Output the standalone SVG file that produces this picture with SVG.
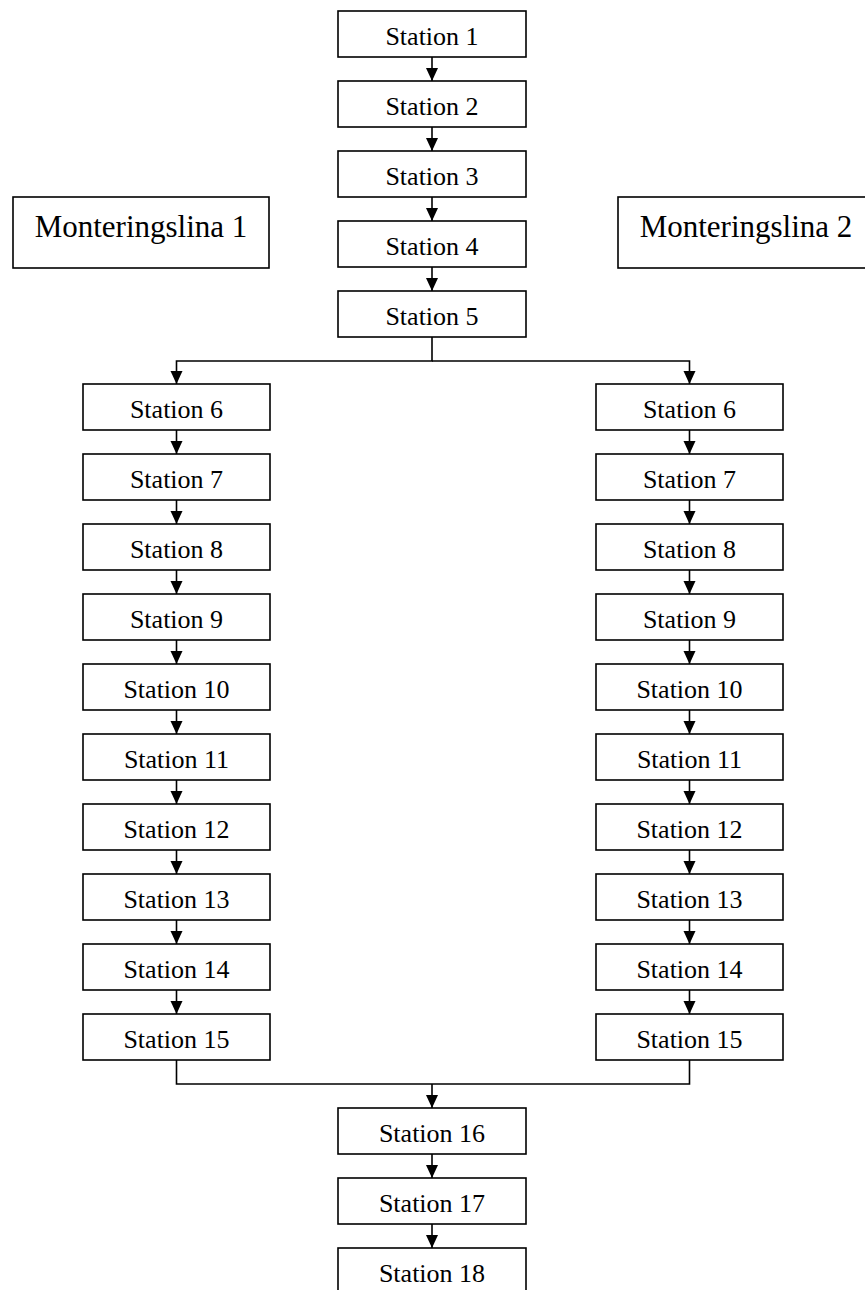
<svg xmlns="http://www.w3.org/2000/svg" width="865" height="1290" viewBox="0 0 865 1290">
<style>
.box{fill:#fff;stroke:#000;stroke-width:1.6}
.t{font-family:"Liberation Serif","Times New Roman",serif;font-size:26px;fill:#000;text-anchor:middle}
.big{font-family:"Liberation Serif","Times New Roman",serif;font-size:31px;fill:#000;text-anchor:middle}
.c{fill:none;stroke:#000;stroke-width:1.6}
</style>
<defs>
<marker id="ah" markerUnits="userSpaceOnUse" markerWidth="13" markerHeight="13" viewBox="0 0 13 13" refX="13" refY="6.5" orient="auto">
<path d="M0,0.5 L13,6.5 L0,12.5 Z" fill="#000"/>
</marker>
</defs>
<rect width="865" height="1290" fill="#fff"/>
<g id="connectors">
<line class="c" x1="432" y1="57" x2="432" y2="81" marker-end="url(#ah)"/>
<line class="c" x1="432" y1="127" x2="432" y2="151" marker-end="url(#ah)"/>
<line class="c" x1="432" y1="197" x2="432" y2="221" marker-end="url(#ah)"/>
<line class="c" x1="432" y1="267" x2="432" y2="291" marker-end="url(#ah)"/>
<polyline class="c" points="432,337 432,361 176.5,361 176.5,384" marker-end="url(#ah)"/>
<polyline class="c" points="432,361 689.5,361 689.5,384" marker-end="url(#ah)"/>
<line class="c" x1="176.5" y1="430" x2="176.5" y2="454" marker-end="url(#ah)"/>
<line class="c" x1="176.5" y1="500" x2="176.5" y2="524" marker-end="url(#ah)"/>
<line class="c" x1="176.5" y1="570" x2="176.5" y2="594" marker-end="url(#ah)"/>
<line class="c" x1="176.5" y1="640" x2="176.5" y2="664" marker-end="url(#ah)"/>
<line class="c" x1="176.5" y1="710" x2="176.5" y2="734" marker-end="url(#ah)"/>
<line class="c" x1="176.5" y1="780" x2="176.5" y2="804" marker-end="url(#ah)"/>
<line class="c" x1="176.5" y1="850" x2="176.5" y2="874" marker-end="url(#ah)"/>
<line class="c" x1="176.5" y1="920" x2="176.5" y2="944" marker-end="url(#ah)"/>
<line class="c" x1="176.5" y1="990" x2="176.5" y2="1014" marker-end="url(#ah)"/>
<line class="c" x1="689.5" y1="430" x2="689.5" y2="454" marker-end="url(#ah)"/>
<line class="c" x1="689.5" y1="500" x2="689.5" y2="524" marker-end="url(#ah)"/>
<line class="c" x1="689.5" y1="570" x2="689.5" y2="594" marker-end="url(#ah)"/>
<line class="c" x1="689.5" y1="640" x2="689.5" y2="664" marker-end="url(#ah)"/>
<line class="c" x1="689.5" y1="710" x2="689.5" y2="734" marker-end="url(#ah)"/>
<line class="c" x1="689.5" y1="780" x2="689.5" y2="804" marker-end="url(#ah)"/>
<line class="c" x1="689.5" y1="850" x2="689.5" y2="874" marker-end="url(#ah)"/>
<line class="c" x1="689.5" y1="920" x2="689.5" y2="944" marker-end="url(#ah)"/>
<line class="c" x1="689.5" y1="990" x2="689.5" y2="1014" marker-end="url(#ah)"/>
<polyline class="c" points="176.5,1060 176.5,1084 689.5,1084 689.5,1060"/>
<line class="c" x1="432" y1="1084" x2="432" y2="1108" marker-end="url(#ah)"/>
<line class="c" x1="432" y1="1154" x2="432" y2="1178" marker-end="url(#ah)"/>
<line class="c" x1="432" y1="1224" x2="432" y2="1248" marker-end="url(#ah)"/>
</g>
<g id="ml1"><rect class="box" x="13" y="197" width="256" height="71"/><text class="big" x="141" y="237">Monteringslina 1</text></g>
<g id="ml2"><rect class="box" x="618" y="197" width="256" height="71"/><text class="big" x="746" y="237">Monteringslina 2</text></g>
<g id="s1"><rect class="box" x="338" y="11" width="188" height="46"/><text class="t" x="432" y="45">Station 1</text></g>
<g id="s2"><rect class="box" x="338" y="81" width="188" height="46"/><text class="t" x="432" y="115">Station 2</text></g>
<g id="s3"><rect class="box" x="338" y="151" width="188" height="46"/><text class="t" x="432" y="185">Station 3</text></g>
<g id="s4"><rect class="box" x="338" y="221" width="188" height="46"/><text class="t" x="432" y="255">Station 4</text></g>
<g id="s5"><rect class="box" x="338" y="291" width="188" height="46"/><text class="t" x="432" y="325">Station 5</text></g>
<g id="l6"><rect class="box" x="83" y="384" width="187" height="46"/><text class="t" x="176.5" y="418">Station 6</text></g>
<g id="l7"><rect class="box" x="83" y="454" width="187" height="46"/><text class="t" x="176.5" y="488">Station 7</text></g>
<g id="l8"><rect class="box" x="83" y="524" width="187" height="46"/><text class="t" x="176.5" y="558">Station 8</text></g>
<g id="l9"><rect class="box" x="83" y="594" width="187" height="46"/><text class="t" x="176.5" y="628">Station 9</text></g>
<g id="l10"><rect class="box" x="83" y="664" width="187" height="46"/><text class="t" x="176.5" y="698">Station 10</text></g>
<g id="l11"><rect class="box" x="83" y="734" width="187" height="46"/><text class="t" x="176.5" y="768">Station 11</text></g>
<g id="l12"><rect class="box" x="83" y="804" width="187" height="46"/><text class="t" x="176.5" y="838">Station 12</text></g>
<g id="l13"><rect class="box" x="83" y="874" width="187" height="46"/><text class="t" x="176.5" y="908">Station 13</text></g>
<g id="l14"><rect class="box" x="83" y="944" width="187" height="46"/><text class="t" x="176.5" y="978">Station 14</text></g>
<g id="l15"><rect class="box" x="83" y="1014" width="187" height="46"/><text class="t" x="176.5" y="1048">Station 15</text></g>
<g id="r6"><rect class="box" x="596" y="384" width="187" height="46"/><text class="t" x="689.5" y="418">Station 6</text></g>
<g id="r7"><rect class="box" x="596" y="454" width="187" height="46"/><text class="t" x="689.5" y="488">Station 7</text></g>
<g id="r8"><rect class="box" x="596" y="524" width="187" height="46"/><text class="t" x="689.5" y="558">Station 8</text></g>
<g id="r9"><rect class="box" x="596" y="594" width="187" height="46"/><text class="t" x="689.5" y="628">Station 9</text></g>
<g id="r10"><rect class="box" x="596" y="664" width="187" height="46"/><text class="t" x="689.5" y="698">Station 10</text></g>
<g id="r11"><rect class="box" x="596" y="734" width="187" height="46"/><text class="t" x="689.5" y="768">Station 11</text></g>
<g id="r12"><rect class="box" x="596" y="804" width="187" height="46"/><text class="t" x="689.5" y="838">Station 12</text></g>
<g id="r13"><rect class="box" x="596" y="874" width="187" height="46"/><text class="t" x="689.5" y="908">Station 13</text></g>
<g id="r14"><rect class="box" x="596" y="944" width="187" height="46"/><text class="t" x="689.5" y="978">Station 14</text></g>
<g id="r15"><rect class="box" x="596" y="1014" width="187" height="46"/><text class="t" x="689.5" y="1048">Station 15</text></g>
<g id="s16"><rect class="box" x="338" y="1108" width="188" height="46"/><text class="t" x="432" y="1142">Station 16</text></g>
<g id="s17"><rect class="box" x="338" y="1178" width="188" height="46"/><text class="t" x="432" y="1212">Station 17</text></g>
<g id="s18"><rect class="box" x="338" y="1248" width="188" height="46"/><text class="t" x="432" y="1282">Station 18</text></g>
</svg>
